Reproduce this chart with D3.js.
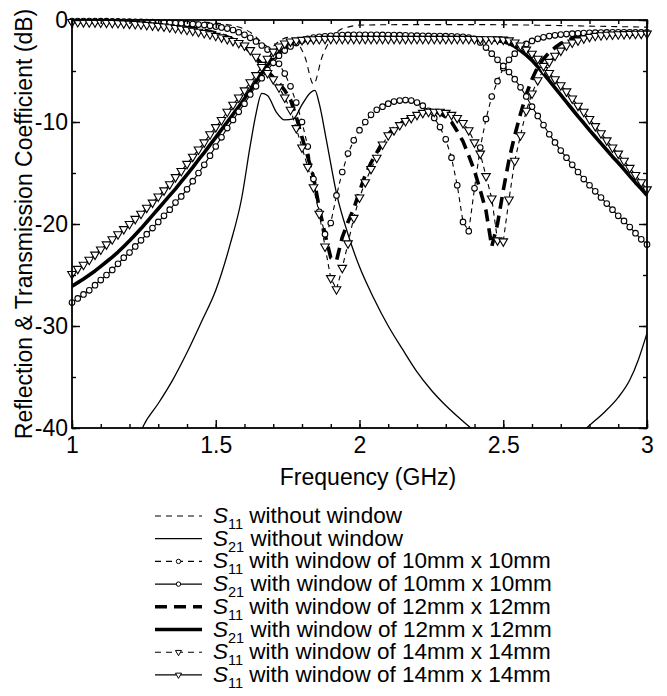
<!DOCTYPE html>
<html>
<head>
<meta charset="utf-8">
<script src="https://cdn.jsdelivr.net/npm/d3@7"></script>
<style>
  body { margin: 0; background: #fff; }
  svg { display: block; font-family: "Liberation Sans", Arial, Helvetica, sans-serif; }
</style>
</head>
<body>
<svg id="chart" width="667" height="696"></svg>
<script>
// ---- data ----
// frequency sweep (GHz) of the cases with a window, one point per marker
const freq = [
  1.00,1.02,1.04,1.06,1.08,1.10,1.12,1.14,1.16,1.18,
  1.20,1.22,1.24,1.26,1.28,1.30,1.32,1.34,1.36,1.38,
  1.40,1.42,1.44,1.46,1.48,1.50,1.52,1.54,1.56,1.58,
  1.60,1.62,1.64,1.66,1.68,1.70,1.72,1.74,1.76,1.78,
  1.80,1.82,1.84,1.86,1.88,1.90,1.92,1.94,1.96,1.98,
  2.00,2.02,2.04,2.06,2.08,2.10,2.12,2.14,2.16,2.18,
  2.20,2.22,2.24,2.26,2.28,2.30,2.32,2.34,2.36,2.38,
  2.40,2.42,2.44,2.46,2.48,2.50,2.52,2.54,2.56,2.58,
  2.60,2.62,2.64,2.66,2.68,2.70,2.72,2.74,2.76,2.78,
  2.80,2.82,2.84,2.86,2.88,2.90,2.92,2.94,2.96,2.98,
  3.00
];

const s11Win10 = [
  -0.10,-0.10,-0.10,-0.11,-0.11,-0.12,-0.12,-0.13,-0.14,-0.15,
  -0.16,-0.17,-0.18,-0.20,-0.21,-0.23,-0.25,-0.27,-0.30,-0.33,
  -0.36,-0.40,-0.45,-0.50,-0.57,-0.64,-0.73,-0.84,-0.98,-1.20,
  -1.45,-1.75,-2.10,-2.50,-2.90,-3.50,-4.30,-5.25,-6.50,-8.10,
  -10.0,-12.4,-15.6,-18.8,-21.0,-19.9,-17.2,-14.9,-13.1,-11.8,
  -10.8,-10.0,-9.3,-8.8,-8.5,-8.2,-8.0,-7.9,-7.85,-7.9,
  -8.1,-8.4,-8.9,-9.6,-10.5,-11.7,-13.5,-16.2,-19.8,-20.7,
  -16.5,-12.5,-9.7,-7.5,-6.0,-4.7,-3.9,-3.3,-2.75,-2.35,
  -2.05,-1.85,-1.70,-1.58,-1.50,-1.43,-1.38,-1.34,-1.30,-1.28,
  -1.26,-1.24,-1.23,-1.22,-1.21,-1.20,-1.20,-1.20,-1.20,-1.20,
  -1.20
];

const s21Win10 = [
  -27.7,-27.3,-26.9,-26.5,-26.0,-25.5,-25.0,-24.5,-23.9,-23.3,
  -22.8,-22.2,-21.6,-21.0,-20.4,-19.8,-19.2,-18.6,-17.9,-17.3,
  -16.6,-15.8,-15.0,-14.2,-13.3,-12.4,-11.5,-10.6,-9.8,-9.0,
  -8.2,-7.3,-6.5,-5.7,-4.9,-4.2,-3.5,-3.0,-2.6,-2.25,
  -2.0,-1.85,-1.72,-1.65,-1.6,-1.55,-1.5,-1.48,-1.46,-1.45,
  -1.45,-1.45,-1.45,-1.45,-1.46,-1.47,-1.48,-1.49,-1.5,-1.52,
  -1.54,-1.55,-1.56,-1.57,-1.58,-1.59,-1.6,-1.62,-1.65,-1.72,
  -1.85,-2.2,-2.7,-3.3,-3.9,-4.5,-5.1,-5.8,-6.6,-7.5,
  -8.5,-9.4,-10.3,-11.2,-12.0,-12.8,-13.5,-14.2,-14.9,-15.6,
  -16.2,-16.8,-17.4,-18.0,-18.6,-19.2,-19.7,-20.3,-20.9,-21.5,
  -22.0
];

const s11Win12 = [
  -0.12,-0.12,-0.13,-0.13,-0.14,-0.15,-0.16,-0.17,-0.19,-0.21,
  -0.23,-0.25,-0.28,-0.31,-0.35,-0.39,-0.44,-0.49,-0.55,-0.62,
  -0.70,-0.79,-0.89,-1.00,-1.13,-1.28,-1.45,-1.65,-1.90,-2.20,
  -2.6,-3.1,-3.7,-4.3,-5.0,-5.6,-6.2,-6.9,-7.8,-9.5,
  -11.5,-13.4,-15.4,-18.4,-21.0,-23.3,-23.6,-21.3,-19.8,-18.5,
  -16.8,-15.2,-14.0,-13.0,-12.0,-11.2,-10.6,-10.2,-9.8,-9.5,
  -9.25,-9.1,-9.0,-9.0,-9.15,-9.5,-10.0,-10.9,-11.9,-13.3,
  -14.8,-16.7,-18.7,-22.2,-20.0,-16.7,-13.7,-11.3,-9.2,-7.3,
  -5.8,-4.6,-3.8,-3.2,-2.7,-2.3,-2.0,-1.8,-1.65,-1.55,
  -1.5,-1.48,-1.46,-1.44,-1.42,-1.4,-1.39,-1.38,-1.37,-1.36,
  -1.35
];

const s21Win12 = [
  -26.1,-25.75,-25.4,-25.0,-24.6,-24.15,-23.7,-23.25,-22.75,-22.2,
  -21.65,-21.05,-20.45,-19.8,-19.15,-18.5,-17.85,-17.2,-16.55,-15.85,
  -15.15,-14.45,-13.7,-13.0,-12.25,-11.5,-10.75,-10.0,-9.25,-8.5,
  -7.7,-6.9,-6.05,-5.25,-4.45,-3.75,-3.2,-2.75,-2.4,-2.2,
  -2.05,-1.95,-1.88,-1.83,-1.8,-1.78,-1.77,-1.76,-1.76,-1.76,
  -1.76,-1.76,-1.76,-1.77,-1.77,-1.78,-1.78,-1.78,-1.78,-1.78,
  -1.78,-1.78,-1.78,-1.78,-1.78,-1.78,-1.78,-1.78,-1.78,-1.78,
  -1.78,-1.8,-1.85,-1.92,-2.0,-2.12,-2.3,-2.6,-3.0,-3.45,
  -3.95,-4.6,-5.25,-5.95,-6.65,-7.35,-8.05,-8.75,-9.45,-10.1,
  -10.8,-11.45,-12.1,-12.75,-13.4,-14.0,-14.65,-15.3,-15.95,-16.55,
  -17.2
];

const s11Win14 = [
  -0.20,-0.20,-0.21,-0.22,-0.23,-0.24,-0.26,-0.28,-0.30,-0.33,
  -0.36,-0.39,-0.43,-0.48,-0.53,-0.58,-0.64,-0.71,-0.78,-0.86,
  -0.95,-1.05,-1.15,-1.27,-1.40,-1.55,-1.70,-1.87,-2.05,-2.25,
  -2.5,-2.95,-3.6,-4.4,-5.2,-5.8,-6.6,-7.6,-8.8,-10.6,
  -12.5,-14.4,-16.4,-19.0,-22.2,-25.3,-26.4,-24.3,-21.9,-19.4,
  -17.4,-15.9,-14.6,-13.5,-12.2,-11.3,-10.8,-10.3,-9.9,-9.6,
  -9.3,-9.1,-9.0,-9.0,-9.0,-9.1,-9.3,-9.6,-10.1,-10.8,
  -12.0,-13.1,-15.3,-17.5,-21.6,-21.7,-17.6,-13.8,-11.3,-8.9,
  -7.2,-5.9,-4.9,-4.1,-3.5,-3.0,-2.5,-2.2,-2.0,-1.8,
  -1.65,-1.55,-1.5,-1.45,-1.42,-1.4,-1.38,-1.36,-1.35,-1.34,
  -1.33
];

const s21Win14 = [
  -24.9,-24.4,-24.0,-23.5,-23.0,-22.5,-22.0,-21.5,-21.0,-20.5,
  -20.0,-19.5,-19.0,-18.4,-17.9,-17.3,-16.7,-16.1,-15.4,-14.8,
  -14.1,-13.4,-12.7,-12.0,-11.2,-10.5,-9.8,-9.0,-8.3,-7.6,
  -6.9,-6.1,-5.4,-4.6,-3.8,-3.1,-2.6,-2.3,-2.1,-2.0,
  -1.95,-1.9,-1.88,-1.86,-1.85,-1.85,-1.85,-1.85,-1.85,-1.85,
  -1.85,-1.85,-1.85,-1.85,-1.85,-1.85,-1.85,-1.85,-1.85,-1.85,
  -1.85,-1.85,-1.85,-1.85,-1.85,-1.85,-1.85,-1.85,-1.85,-1.85,
  -1.86,-1.87,-1.88,-1.89,-1.9,-1.92,-2.0,-2.2,-2.5,-2.9,
  -3.3,-3.8,-4.5,-5.2,-5.8,-6.4,-7.0,-7.7,-8.4,-9.0,
  -9.7,-10.4,-11.1,-11.8,-12.5,-13.1,-13.8,-14.5,-15.2,-15.9,
  -16.6
];

// cases without window (smooth curves, no markers)
const freqS11NoWin = [1.0,1.2,1.4,1.5,1.55,1.6,1.63,1.66,1.69,1.72,1.75,1.78,1.81,1.84,1.87,1.9,1.93,1.96,2.0,2.2,2.4,2.6,2.8,3.0];
const s11NoWin     = [-0.02,-0.05,-0.15,-0.3,-0.5,-0.9,-1.4,-2.2,-2.7,-2.1,-1.7,-2.1,-3.6,-6.3,-3.6,-1.9,-1.0,-0.7,-0.5,-0.45,-0.45,-0.5,-0.6,-0.7];

const freqS21NoWin = [1.0,1.1,1.2,1.25,1.3,1.35,1.4,1.45,1.5,1.55,1.59,1.62,1.64,1.66,1.68,1.71,1.74,1.77,1.8,1.83,1.845,1.86,1.885,1.92,1.96,2.0,2.05,2.1,2.15,2.2,2.25,2.3,2.35,2.4,2.5,2.6,2.7,2.75,2.79,2.85,2.9,2.94,2.97,3.0];
const s21NoWin     = [-52,-48,-43.5,-39.7,-37.6,-35.3,-32.6,-29.6,-26.5,-22.0,-17.5,-12.3,-9.2,-7.2,-7.4,-9.0,-9.8,-9.7,-8.3,-7.1,-6.9,-8.2,-11.8,-17.0,-21.0,-24.2,-27.3,-30.0,-32.3,-34.5,-36.3,-37.8,-39.1,-40.3,-42.3,-43.5,-42.3,-41.2,-40.0,-38.5,-37.0,-35.3,-33.3,-30.7];

const xTicks = [1, 1.5, 2, 2.5, 3];
const xTickLabels = ["1", "1.5", "2", "2.5", "3"];
const yTicks = [0, -10, -20, -30, -40];
const yTickLabels = ["0", "-10", "-20", "-30", "-40"];

const legendLabels = [
  ["11", " without window"],
  ["21", " without window"],
  ["11", " with window of 10mm x 10mm"],
  ["21", " with window of 10mm x 10mm"],
  ["11", " with window of 12mm x 12mm"],
  ["21", " with window of 12mm x 12mm"],
  ["11", " with window of 14mm x 14mm"],
  ["11", " with window of 14mm x 14mm"]
];

// ---- chart ----
const svg = d3.select("#chart");
const plot = { left: 72, right: 647, top: 20, bottom: 428 };
const fontSize = 23;

const x = d3.scaleLinear().domain([1, 3]).range([plot.left, plot.right]);
const y = d3.scaleLinear().domain([-40, 0]).range([plot.bottom, plot.top]);

svg.append("rect").attr("width", 667).attr("height", 696).attr("fill", "#fff");

svg.append("clipPath").attr("id", "clip")
  .append("rect")
  .attr("x", plot.left).attr("y", plot.top)
  .attr("width", plot.right - plot.left).attr("height", plot.bottom - plot.top);

// series styles
const series = [
  { f: freqS11NoWin, v: s11NoWin, width: 1.1, dash: "6,5", marker: null, curve: d3.curveMonotoneX },
  { f: freqS21NoWin, v: s21NoWin, width: 1.3, dash: null, marker: null, curve: d3.curveMonotoneX },
  { f: freq, v: s11Win10, width: 1.1, dash: "5,4", marker: "circle", curve: d3.curveLinear },
  { f: freq, v: s21Win10, width: 1.1, dash: null, marker: "circle", curve: d3.curveLinear },
  { f: freq, v: s11Win12, width: 3.6, dash: "12,7", marker: null, curve: d3.curveLinear },
  { f: freq, v: s21Win12, width: 3.6, dash: null, marker: null, curve: d3.curveLinear },
  { f: freq, v: s11Win14, width: 1.1, dash: "5,4", marker: "triangle", curve: d3.curveLinear },
  { f: freq, v: s21Win14, width: 1.1, dash: null, marker: "triangle", curve: d3.curveLinear }
];

const lines = svg.append("g").attr("clip-path", "url(#clip)");
series.forEach(s => {
  const pts = s.f.map((f, i) => [f, s.v[i]]);
  const line = d3.line().x(d => x(d[0])).y(d => y(d[1])).curve(s.curve);
  lines.append("path")
    .attr("d", line(pts))
    .attr("fill", "none")
    .attr("stroke", "#000")
    .attr("stroke-width", s.width)
    .attr("stroke-dasharray", s.dash)
    .attr("stroke-linejoin", "round");
});

const triPath = d3.symbol().type(d3.symbolTriangle).size(32)();
const triSmall = d3.symbol().type(d3.symbolTriangle).size(16)();

const markers = svg.append("g");
series.filter(s => s.marker).forEach(s => {
  const pts = s.f.map((f, i) => [f, s.v[i]]);
  if (s.marker === "circle") {
    markers.append("g").selectAll("circle").data(pts).join("circle")
      .attr("cx", d => x(d[0])).attr("cy", d => y(d[1])).attr("r", 2.8)
      .attr("fill", "#fff").attr("stroke", "#000").attr("stroke-width", 1.1);
  } else {
    markers.append("g").selectAll("path").data(pts).join("path")
      .attr("d", triPath)
      .attr("transform", d => `translate(${x(d[0])},${y(d[1])}) rotate(180)`)
      .attr("fill", "#fff").attr("stroke", "#000").attr("stroke-width", 1.1);
  }
});

// axes: ticks point inward on all four sides
function cleanAxis(g) {
  g.select(".domain").remove();
  g.selectAll(".tick line").attr("stroke", "#000").attr("stroke-width", 1.4);
  g.selectAll(".tick text").attr("fill", "#000").attr("font-size", fontSize)
    .attr("font-family", "Liberation Sans, Arial, sans-serif");
}

svg.append("g").attr("transform", `translate(0,${plot.bottom})`)
  .call(d3.axisBottom(x).tickValues(x.ticks(20)).tickSize(-4).tickFormat(""))
  .call(cleanAxis);
svg.append("g").attr("transform", `translate(0,${plot.bottom})`)
  .call(d3.axisBottom(x).tickValues(xTicks).tickSize(-8).tickPadding(9)
    .tickFormat((d, i) => xTickLabels[i]))
  .call(cleanAxis);
svg.append("g").attr("transform", `translate(0,${plot.top})`)
  .call(d3.axisTop(x).tickValues(x.ticks(20)).tickSize(-4).tickFormat(""))
  .call(cleanAxis);
svg.append("g").attr("transform", `translate(0,${plot.top})`)
  .call(d3.axisTop(x).tickValues(xTicks).tickSize(-8).tickFormat(""))
  .call(cleanAxis);

svg.append("g").attr("transform", `translate(${plot.left},0)`)
  .call(d3.axisLeft(y).tickValues(y.ticks(8)).tickSize(-4).tickFormat(""))
  .call(cleanAxis);
svg.append("g").attr("transform", `translate(${plot.left},0)`)
  .call(d3.axisLeft(y).tickValues(yTicks).tickSize(-8).tickPadding(4)
    .tickFormat((d, i) => yTickLabels[i]))
  .call(cleanAxis);
svg.append("g").attr("transform", `translate(${plot.right},0)`)
  .call(d3.axisRight(y).tickValues(y.ticks(8)).tickSize(-4).tickFormat(""))
  .call(cleanAxis);
svg.append("g").attr("transform", `translate(${plot.right},0)`)
  .call(d3.axisRight(y).tickValues(yTicks).tickSize(-8).tickFormat(""))
  .call(cleanAxis);

svg.append("rect")
  .attr("x", plot.left).attr("y", plot.top)
  .attr("width", plot.right - plot.left).attr("height", plot.bottom - plot.top)
  .attr("fill", "none").attr("stroke", "#000").attr("stroke-width", 1.8);

// axis titles
svg.append("text")
  .attr("x", 368).attr("y", 485)
  .attr("text-anchor", "middle").attr("font-size", fontSize)
  .text("Frequency (GHz)");

svg.append("text")
  .attr("transform", `translate(32,${(plot.top + plot.bottom) / 2}) rotate(-90)`)
  .attr("text-anchor", "middle").attr("font-size", fontSize)
  .text("Reflection & Transmission Coefficient (dB)");

// legend (rows are packed tightly, as in the original figure)
const legend = svg.append("g").attr("transform", "translate(155,523)");
const rowH = 22.7;
series.forEach((s, i) => {
  const row = legend.append("g").attr("transform", `translate(0,${i * rowH})`);
  row.append("line")
    .attr("x1", 0).attr("x2", 47).attr("y1", -7).attr("y2", -7)
    .attr("stroke", "#000").attr("stroke-width", s.width)
    .attr("stroke-dasharray", s.dash ? (s.width > 2 ? "12,7" : "6,5") : null);
  if (s.marker === "circle") {
    row.append("circle").attr("cx", 23.5).attr("cy", -7).attr("r", 2.2)
      .attr("fill", "#fff").attr("stroke", "#000").attr("stroke-width", 1);
  } else if (s.marker === "triangle") {
    row.append("path").attr("d", triSmall)
      .attr("transform", "translate(23.5,-7) rotate(180)")
      .attr("fill", "#fff").attr("stroke", "#000").attr("stroke-width", 1);
  }
  const t = row.append("text").attr("x", 58).attr("y", 0).attr("font-size", 22.5);
  t.append("tspan").attr("font-style", "italic").text("S");
  t.append("tspan").attr("font-size", 14.5).attr("dy", 6).text(legendLabels[i][0]);
  t.append("tspan").attr("dy", -6).text(legendLabels[i][1]);
});
</script>
</body>
</html>
